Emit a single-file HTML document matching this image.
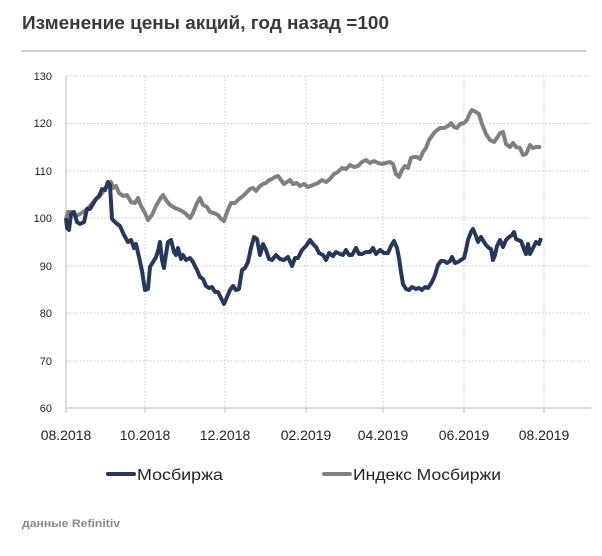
<!DOCTYPE html>
<html><head><meta charset="utf-8"><style>
html,body{margin:0;padding:0;background:#fff;}
svg{display:block;font-family:"Liberation Sans","DejaVu Sans",sans-serif;}
</style></head><body>
<svg width="602" height="556" viewBox="0 0 602 556" xmlns="http://www.w3.org/2000/svg">
<text x="22" y="29" font-size="18" font-weight="bold" fill="#3a3a3a" textLength="367" lengthAdjust="spacingAndGlyphs">Изменение цены акций, год назад =100</text>
<line x1="21" y1="51" x2="586" y2="51" stroke="#bdbdbd" stroke-width="1.5"/>
<g stroke="#c8c8c8" stroke-width="1" stroke-dasharray="1.5,2">
<line x1="66" y1="76" x2="591" y2="76"/><line x1="66" y1="123.5" x2="591" y2="123.5"/>
<line x1="66" y1="171" x2="591" y2="171"/><line x1="66" y1="218" x2="591" y2="218"/>
<line x1="66" y1="266" x2="591" y2="266"/><line x1="66" y1="313" x2="591" y2="313"/>
<line x1="66" y1="361" x2="591" y2="361"/>
<line x1="145" y1="76" x2="145" y2="408"/><line x1="225" y1="76" x2="225" y2="408"/>
<line x1="306" y1="76" x2="306" y2="408"/><line x1="383" y1="76" x2="383" y2="408"/>
<line x1="464" y1="76" x2="464" y2="408"/><line x1="544" y1="76" x2="544" y2="408"/>
</g>
<g stroke="#bbb" stroke-width="1">
<line x1="66" y1="408" x2="591" y2="408"/><line x1="66" y1="76" x2="66" y2="413"/>
<line x1="145" y1="408" x2="145" y2="413"/><line x1="225" y1="408" x2="225" y2="413"/>
<line x1="306" y1="408" x2="306" y2="413"/><line x1="383" y1="408" x2="383" y2="413"/>
<line x1="464" y1="408" x2="464" y2="413"/><line x1="544" y1="408" x2="544" y2="413"/>
</g>
<g font-size="11" fill="#222" text-anchor="end">
<text x="52" y="80">130</text><text x="52" y="127">120</text><text x="52" y="175">110</text>
<text x="52" y="222">100</text><text x="52" y="270">90</text><text x="52" y="317">80</text>
<text x="52" y="365">70</text><text x="52" y="412">60</text>
</g>
<g font-size="14" fill="#222" text-anchor="middle">
<text x="66" y="440">08.2018</text><text x="145" y="440">10.2018</text><text x="225" y="440">12.2018</text>
<text x="306" y="440">02.2019</text><text x="383" y="440">04.2019</text><text x="464" y="440">06.2019</text>
<text x="544" y="440">08.2019</text>
</g>
<polyline fill="none" stroke="#808080" stroke-width="4" stroke-linejoin="round" points="66,218 68,212 72,212 76,216 80,214 86,210 90,206 95,200 100,196 104,190 108,185 111,182 113,188 116,186 119,193 123,196 127,195 131,202 135,203 138,198 141,206 145,213 148,220 152,215 156,206 160,199 163,195 166,200 170,205 175,208 180,210 185,213 190,218 193,213 197,203 200,198 203,205 207,207 210,212 214,213 218,215 221,219 224,221 227,212 231,203 235,203 239,199 243,196 247,192 250,189 253,188 256,191 260,186 263,184 266,183 269,180 272,179 275,177 278,176 281,180 284,184 287,182 290,180 293,184 297,183 300,186 304,184 308,187 313,185 318,183 322,180 326,182 330,179 334,174 338,172 342,168 346,169 350,165 354,167 358,166 362,162 366,160 370,163 374,161 378,163 382,164 386,163 390,162 393,164 396,174 399,177 402,170 405,166 408,168 411,158 414,157 417,157 420,159 423,152 426,148 429,140 432,136 434,133 436,131 440,128 444,128 448,126 451,123 454,127 457,128 460,124 464,123 467,120 470,113 472,110 476,112 479,114 482,124 486,134 490,140 494,142 497,138 500,133 503,132 506,144 510,147 513,143 516,147 520,148 523,155 526,154 530,145 533,148 536,147 541,147"/>
<polyline fill="none" stroke="#26385a" stroke-width="4" stroke-linejoin="round" points="66,218 67,228 69,230 71,214 74,212 77,222 80,224 84,222 87,209 90,209 93,204 96,199 99,196 102,189 105,190 108,182 110,185 112,219 116,223 120,226 124,235 128,242 131,240 134,248 136,244 139,257 142,271 145,290 148,289 150,267 153,262 156,257 158,251 160,242 162,260 164,268 166,254 168,242 171,240 174,252 176,255 178,248 181,259 183,255 186,260 190,258 193,262 197,270 200,277 203,279 206,286 209,288 212,287 215,292 218,292 221,298 224,304 227,297 230,290 233,286 236,290 239,289 242,270 245,268 248,262 251,248 254,237 257,239 260,255 263,244 266,250 269,259 272,260 276,255 280,259 284,260 288,257 292,266 295,258 298,258 302,250 306,246 310,240 313,244 316,247 319,253 323,255 326,260 329,253 333,256 336,252 340,254 343,255 346,250 349,255 352,255 356,248 359,254 362,254 366,252 370,252 373,248 376,254 380,250 384,253 388,253 391,246 394,241 397,248 399,258 401,272 403,284 406,289 409,290 412,287 416,289 419,288 422,290 425,287 428,288 432,282 435,275 438,265 441,261 444,261 447,263 450,261 452,257 455,263 458,262 461,260 464,258 466,250 468,240 471,232 473,229 476,236 478,242 481,237 484,242 486,245 489,248 491,249 493,260 495,255 497,246 500,240 503,247 506,240 509,237 512,235 514,232 516,239 518,240 521,241 524,249 526,254 528,244 530,254 533,248 536,242 539,244 541,238"/>
<line x1="108" y1="474" x2="134" y2="474" stroke="#26385a" stroke-width="4" stroke-linecap="round"/>
<text x="137" y="480" font-size="16" fill="#222" textLength="86" lengthAdjust="spacingAndGlyphs">Мосбиржа</text>
<line x1="324" y1="474" x2="350" y2="474" stroke="#808080" stroke-width="4" stroke-linecap="round"/>
<text x="353" y="480" font-size="16" fill="#222" textLength="148" lengthAdjust="spacingAndGlyphs">Индекс Мосбиржи</text>
<text x="22" y="527" font-size="11" font-weight="bold" fill="#8a8a8a" textLength="98" lengthAdjust="spacingAndGlyphs">данные Refinitiv</text>
</svg>
</body></html>
